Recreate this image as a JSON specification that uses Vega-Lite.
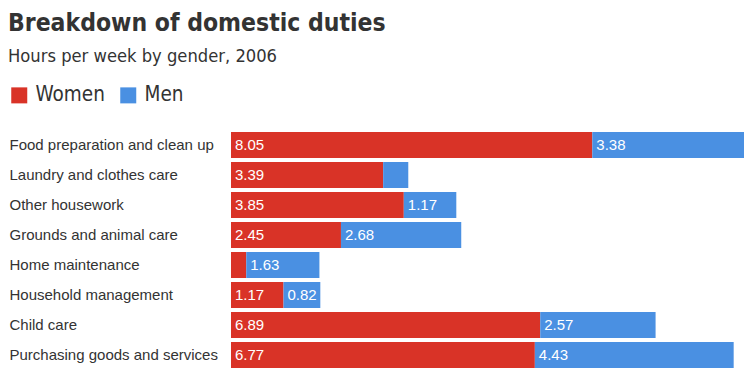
{
  "$schema": "https://vega.github.io/schema/vega-lite/v6.json",
  "width": 513,
  "height": 240,
  "autosize": {"type": "none"},
  "padding": {"left": 231, "top": 130, "right": 10, "bottom": 18},
  "background": "white",
  "view": {"stroke": null},
  "title": {
    "text": "Breakdown of domestic duties",
    "subtitle": "Hours per week by gender, 2006",
    "anchor": "start",
    "frame": "group",
    "dx": -223,
    "offset": 19,
    "font": "DejaVu Sans Condensed, Roboto",
    "fontSize": 24.5,
    "fontWeight": "bold",
    "color": "#333333",
    "subtitleFont": "DejaVu Sans Condensed, Roboto",
    "subtitleFontSize": 18.2,
    "subtitleColor": "#333333",
    "subtitlePadding": 11
  },
  "data": {
    "values": [
      {"task": "Food preparation and clean up", "gender": "Women", "hours": 8.05},
      {"task": "Food preparation and clean up", "gender": "Men", "hours": 3.38},
      {"task": "Laundry and clothes care", "gender": "Women", "hours": 3.39},
      {"task": "Laundry and clothes care", "gender": "Men", "hours": 0.56},
      {"task": "Other housework", "gender": "Women", "hours": 3.85},
      {"task": "Other housework", "gender": "Men", "hours": 1.17},
      {"task": "Grounds and animal care", "gender": "Women", "hours": 2.45},
      {"task": "Grounds and animal care", "gender": "Men", "hours": 2.68},
      {"task": "Home maintenance", "gender": "Women", "hours": 0.34},
      {"task": "Home maintenance", "gender": "Men", "hours": 1.63},
      {"task": "Household management", "gender": "Women", "hours": 1.17},
      {"task": "Household management", "gender": "Men", "hours": 0.82},
      {"task": "Child care", "gender": "Women", "hours": 6.89},
      {"task": "Child care", "gender": "Men", "hours": 2.57},
      {"task": "Purchasing goods and services", "gender": "Women", "hours": 6.77},
      {"task": "Purchasing goods and services", "gender": "Men", "hours": 4.43}
    ]
  },
  "transform": [
    {"stack": "hours", "groupby": ["task"], "sort": [{"field": "gender", "order": "descending"}], "as": ["x0", "x1"]}
  ],
  "encoding": {
    "y": {
      "field": "task",
      "type": "nominal",
      "sort": null,
      "scale": {"paddingInner": 0.133, "paddingOuter": 0.067},
      "axis": {
        "title": null,
        "domain": false,
        "ticks": false,
        "labelAlign": "left",
        "labelPadding": 222,
        "labelLimit": 230,
        "labelFont": "Liberation Sans",
        "labelFontSize": 15,
        "labelColor": "#333333"
      }
    }
  },
  "layer": [
    {
      "mark": {"type": "bar"},
      "encoding": {
        "x": {"field": "x0", "type": "quantitative", "scale": {"domain": [0, 11.43], "nice": false, "zero": true}, "axis": null},
        "x2": {"field": "x1"},
        "color": {
          "field": "gender",
          "type": "nominal",
          "scale": {"domain": ["Women", "Men"], "range": ["#d93327", "#4a90e2"]},
          "legend": {
            "title": null,
            "orient": "none",
            "legendX": -222,
            "legendY": -45,
            "direction": "horizontal",
            "symbolType": "square",
            "symbolSize": 256,
            "symbolStrokeWidth": 0,
            "labelFont": "DejaVu Sans Condensed, Roboto",
            "labelFontSize": 20.5,
            "labelColor": "#333333",
            "labelOffset": 6,
            "columnPadding": 13
          }
        }
      }
    },
    {
      "transform": [{"filter": "datum.hours >= 0.8"}],
      "mark": {"type": "text", "align": "left", "baseline": "middle", "dx": 4, "color": "white", "font": "Liberation Sans", "fontSize": 15},
      "encoding": {
        "x": {"field": "x0", "type": "quantitative"},
        "text": {"field": "hours", "type": "quantitative", "format": ".2f"}
      }
    }
  ]
}
